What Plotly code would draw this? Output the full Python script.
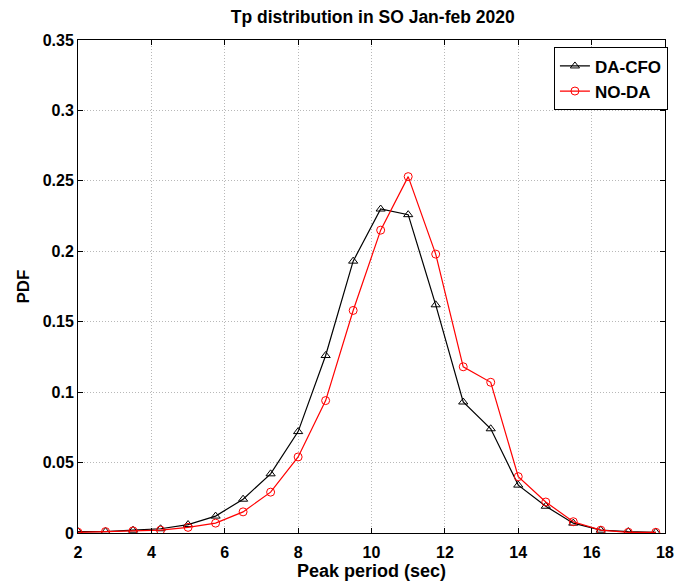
import plotly.graph_objects as go

tp = [2, 2.75, 3.5, 4.25, 5, 5.75, 6.5, 7.25, 8, 8.75, 9.5, 10.25, 11, 11.75,
      12.5, 13.25, 14, 14.75, 15.5, 16.25, 17, 17.75]
da_cfo = [0.001, 0.001, 0.002, 0.003, 0.006, 0.012, 0.024, 0.042, 0.072, 0.126,
          0.193, 0.230, 0.226, 0.162, 0.093, 0.074, 0.034, 0.019, 0.007, 0.002,
          0.001, 0.0005]
no_da = [0.0005, 0.001, 0.0015, 0.002, 0.004, 0.007, 0.015, 0.029, 0.054, 0.094,
         0.158, 0.215, 0.253, 0.198, 0.118, 0.107, 0.040, 0.022, 0.008, 0.002,
         0.0005, 0.0005]
x_ticks = [2, 4, 6, 8, 10, 12, 14, 16, 18]
y_ticks = [0, 0.05, 0.1, 0.15, 0.2, 0.25, 0.3, 0.35]
y_labels = ["0", "0.05", "0.1", "0.15", "0.2", "0.25", "0.3", "0.35"]

FONT = "Liberation Sans, Arial, sans-serif"

fig = go.Figure()
fig.add_trace(go.Scatter(
    x=tp, y=da_cfo, name="<b>DA-CFO</b>", mode="lines+markers",
    line=dict(color="black", width=1.2),
    marker=dict(symbol="triangle-up-open", size=8, color="black", line=dict(width=1))))
fig.add_trace(go.Scatter(
    x=tp, y=no_da, name="<b>NO-DA</b>", mode="lines+markers",
    line=dict(color="red", width=1.2),
    marker=dict(symbol="circle-open", size=8, color="red", line=dict(width=1))))

axis_common = dict(
    showline=True, linecolor="black", linewidth=1, mirror="ticks",
    ticks="inside", ticklen=5, tickcolor="black",
    showgrid=True, gridcolor="#b8b8b8", griddash="1px,2px", gridwidth=1,
    zeroline=False, automargin=False,
    tickfont=dict(family=FONT, size=16, color="black"),
)

fig.update_layout(
    width=674, height=585,
    margin=dict(l=78, r=6, t=40, b=52),
    paper_bgcolor="white", plot_bgcolor="white",
    title=dict(text="<b>Tp distribution in SO Jan-feb 2020</b>", x=0.553, xanchor="center",
               y=0.971, yanchor="middle", font=dict(family=FONT, size=17.5, color="black")),
    xaxis=dict(range=[2, 18], tickvals=x_ticks, ticktext=[f"<b>{v}</b>" for v in x_ticks],
               ticklabelstandoff=5,
               title=dict(text="<b>Peak period (sec)</b>", standoff=4,
                          font=dict(family=FONT, size=18, color="black")),
               **axis_common),
    yaxis=dict(range=[0, 0.35], tickvals=y_ticks, ticktext=[f"<b>{t}</b>" for t in y_labels],
               title=dict(text="<b>PDF</b>", standoff=8,
                          font=dict(family=FONT, size=17, color="black")),
               **axis_common),
    legend=dict(x=1.005, y=0.985, xanchor="right", yanchor="top",
                bgcolor="white", bordercolor="black", borderwidth=1,
                font=dict(family=FONT, size=17, color="black"),
                tracegroupgap=0),
    showlegend=True,
)

fig.write_html("out.html")
